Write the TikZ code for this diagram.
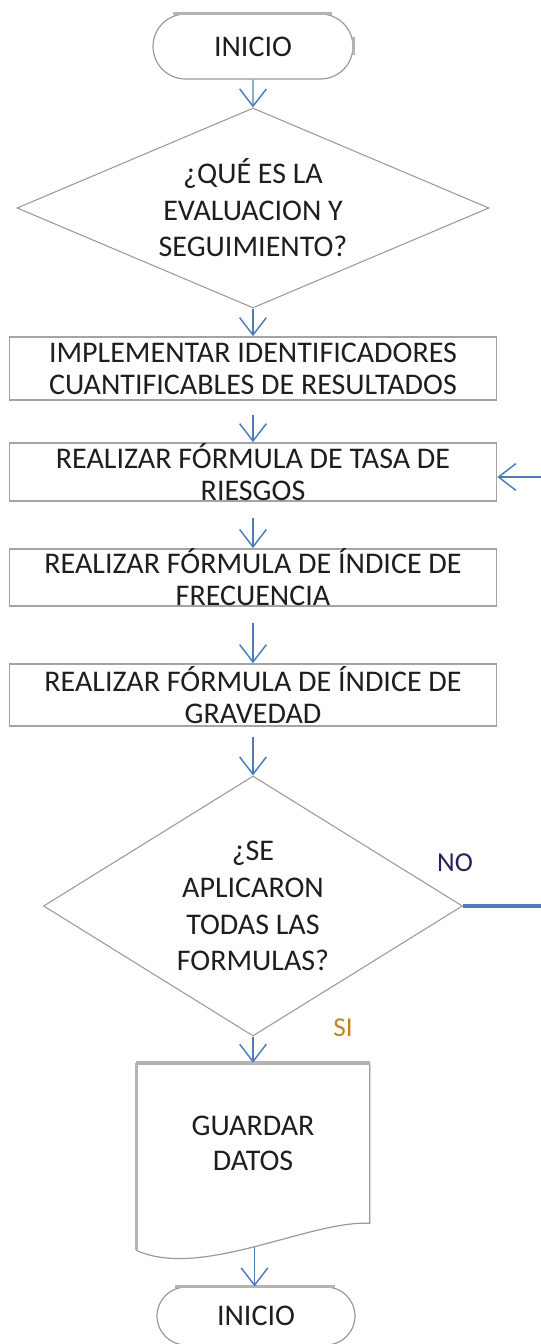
\documentclass[tikz,border=0pt]{standalone}
\usepackage{fontspec}
\setmainfont{Carlito}
\usetikzlibrary{shapes.geometric,shapes.misc,arrows.meta,calc}
\definecolor{conn}{HTML}{4A7EBB}
\definecolor{edge}{HTML}{A4A4A4}
\definecolor{dedge}{HTML}{9A9A9A}
\definecolor{thk}{HTML}{B4B4B4}
\definecolor{txt}{HTML}{1E1E1E}
\definecolor{nocol}{HTML}{23235E}
\definecolor{sicol}{HTML}{C4861C}
\begin{document}
\begin{tikzpicture}[x=0.75pt,y=-0.75pt,
  every node/.style={text=txt, font=\fontsize{22.5pt}{27pt}\selectfont},
  term/.style={rounded rectangle, draw=dedge, line width=0.9pt, inner sep=0pt},
  dec/.style={diamond, draw=dedge, line width=0.8pt, inner sep=0pt, align=center},
  proc/.style={rectangle, draw=edge, line width=1.2pt, inner sep=0pt, align=center,
    minimum width=365.25pt, font=\fontsize{22.5pt}{24pt}\selectfont},
  arr/.style={draw=conn, line width=1.1pt, -{Straight Barb[length=13pt,width=20pt,line width=1.1pt]}},
  lbl/.style={font=\fontsize{20.5pt}{24pt}\selectfont},
  thickline/.style={draw=thk, line width=2.4pt},
]
\useasboundingbox (0,0) rectangle (541,1344);

% nodes
\node[term, minimum width=150pt, minimum height=48.75pt] (start) at (253,46.5) {INICIO};
\node[dec, aspect=2.36, minimum width=354pt, minimum height=150pt,
  font=\fontsize{22.5pt}{27.4pt}\selectfont] (d1) at (253,208) {¿QUÉ ES LA\\EVALUACION Y\\SEGUIMIENTO?};
\node[proc, minimum height=47.25pt] (b1) at (253,368.5) {IMPLEMENTAR IDENTIFICADORES\\CUANTIFICABLES DE RESULTADOS};
\node[proc, minimum height=43.5pt] (b2) at (253,472) {REALIZAR FÓRMULA DE TASA DE\\RIESGOS};
\node[proc, minimum height=42.75pt] (b3) at (253,577.5) {REALIZAR FÓRMULA DE ÍNDICE DE\\FRECUENCIA};
\node[proc, minimum height=46.5pt] (b4) at (253,695) {REALIZAR FÓRMULA DE ÍNDICE DE\\GRAVEDAD};
\node[dec, aspect=1.61, minimum width=314.25pt, minimum height=195pt,
  font=\fontsize{22.5pt}{27.6pt}\selectfont] (d2) at (253,906) {¿SE\\APLICARON\\TODAS LAS\\FORMULAS?};
\node[inner sep=0pt, minimum width=174.75pt, minimum height=120pt, align=center,
  font=\fontsize{22.5pt}{26.25pt}\selectfont] (doc) at (253,1143) {GUARDAR\\DATOS};
\node[term, minimum width=148.5pt, minimum height=43.5pt] (end) at (256,1316) {INICIO};
\node[lbl, text=nocol] (no) at (455,863) {NO};
\node[lbl, text=sicol] (si) at (343,1028) {SI};

% document shape
\draw[dedge, line width=0.9pt] (doc.north east) -- (doc.south east)
  .. controls (310,1220) and (200,1280) .. ($(doc.south west)+(0,27)$) coordinate[pos=0.5] (docb);
\draw[thickline] (doc.north west) -- ($(doc.south west)+(0,27)$);
\draw[thickline, line width=3pt] (doc.north west) -- (doc.north east);

% terminal shading edges
\draw[thickline] ($(start.north)+(-80,0)$) -- ($(start.north)+(79,0)$);
\draw[thickline] ($(start.east)+(0,-9.5)$) -- ($(start.east)+(0,8.5)$);
\draw[thickline] ($(end.north)+(-81,0)$) -- ($(end.north)+(79,0)$);

% connectors
\draw[arr] (start) -- (d1);
\draw[arr] (d1) -- (b1);
\draw[arr, shorten <=11pt] (b1) -- (b2);
\draw[arr, shorten <=12pt] (b2) -- (b3);
\draw[arr, shorten <=12pt] (b3) -- (b4);
\draw[arr, shorten <=8pt] (b4) -- (d2);
\draw[arr] (d2) -- (doc.north);
\draw[arr] (docb) -- (docb |- end.north);
\draw[draw=conn, line width=3pt] (d2.east) -- ++(100,0) coordinate (nr);
\draw[arr] (nr) |- ($(b2.east)+(0,5)$);
\end{tikzpicture}
\end{document}
